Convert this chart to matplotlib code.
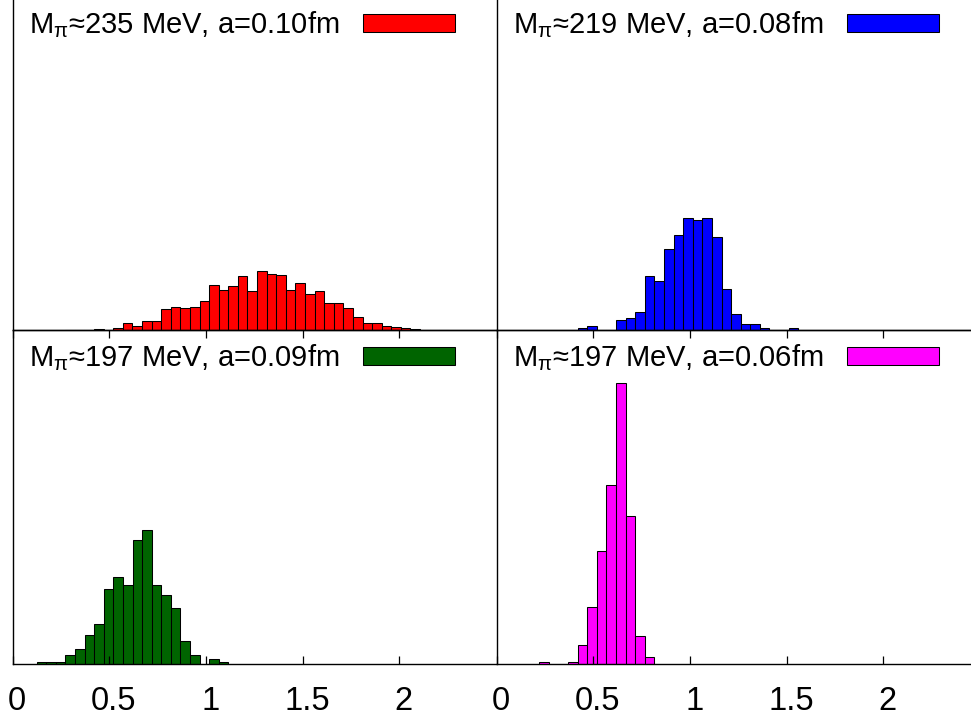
import numpy as np
import matplotlib
matplotlib.use("Agg")
import matplotlib.pyplot as plt
from matplotlib.transforms import ScaledTranslation

plt.rcParams.update({
    "font.family": ["Liberation Sans", "DejaVu Sans"],
    "mathtext.fontset": "custom",
    "mathtext.rm": "Liberation Sans",
    "mathtext.it": "Liberation Sans:italic",
    "mathtext.bf": "Liberation Sans:bold",
})

# ---- data (histogram heights, arbitrary units) ----
bin_width = 0.0496

labels = [
    r"M$_{\mathrm{π}}$≈235 MeV, a=0.10fm",
    r"M$_{\mathrm{π}}$≈219 MeV, a=0.08fm",
    r"M$_{\mathrm{π}}$≈197 MeV, a=0.09fm",
    r"M$_{\mathrm{π}}$≈197 MeV, a=0.06fm",
]
colors = ["#ff0000", "#0000ff", "#006400", "#ff00ff"]

start_a10 = 0.272
counts_a10 = [0.4, 0.4, 0.4, 1, 0, 2, 7, 4, 9, 9, 21, 23, 22, 23, 29, 45.3, 40, 44,
              54, 39, 59, 56, 55.3, 40, 47, 36.3, 39, 27.3, 27.3, 22, 13, 7, 7, 4,
              3, 2.3, 1, 0.4, 0.4, 0.4]

start_a08 = 0.419
counts_a08 = [2.3, 4, 0, 0, 10, 12, 18, 54, 49.7, 81, 95.3, 112, 110, 112, 93,
              41.3, 16, 6, 6, 2, 0, 0, 2]

start_a09 = 0.124
counts_a09 = [2, 2, 2, 8.3, 14.7, 29, 39.3, 74.3, 86.3, 78.3, 123.7, 133.7, 78.3,
              68.3, 55.7, 22.7, 8.3, 0, 4.3, 2]

start_a06 = 0.2207
counts_a06 = [2, 0, 0, 2, 18.7, 56.3, 112.3, 179, 280.7, 148, 27.3, 6.7]

xticks = [0, 0.5, 1, 1.5, 2]
xticklabels = ["0", "0.5", "1", "1.5", "2"]

panels = [
    (start_a10, counts_a10),
    (start_a08, counts_a08),
    (start_a09, counts_a09),
    (start_a06, counts_a06),
]

# ---- layout ----
W, H = 971, 719
fig = plt.figure(figsize=(W / 100, H / 100), dpi=100)
ax_w = 483.33 / W
ax_h = 333.4 / H
x_left = [12.67 / W, 496.67 / W]
y_bot = [(H - 330.3) / H, (H - 663.7) / H]

axes = []
for r in range(2):
    for c in range(2):
        ax = fig.add_axes([x_left[c], y_bot[r], ax_w, ax_h])
        ax.patch.set_visible(False)
        axes.append(ax)

for i, (ax, (start, counts)) in enumerate(zip(axes, panels)):
    counts = np.asarray(counts)
    lefts = start + bin_width * np.arange(len(counts))
    ax.bar(lefts, counts, width=bin_width, align="edge", color=colors[i],
           edgecolor="black", linewidth=0.75, label=labels[i])
    ax.set_xlim(0, 2.5)
    ax.set_ylim(0, 333.4)
    ax.set_yticks([])
    bottom_row = i >= 2
    ax.spines["right"].set_visible(False)
    ax.spines["top"].set_visible(bottom_row)
    for s in ["left", "bottom", "top"]:
        ax.spines[s].set_linewidth(1.0)
        ax.spines[s].set_color("black")
    if bottom_row:
        ax.set_xticks(xticks)
        ax.set_xticklabels(xticklabels, fontsize=23.5)
        ax.tick_params(axis="x", which="major", direction="in", length=6,
                       width=0.9, top=True, bottom=True, pad=16)
        for lab in ax.get_xticklabels():
            lab.set_transform(lab.get_transform() +
                              ScaledTranslation(4.4 / 100, 0, fig.dpi_scale_trans))
    else:
        ax.set_xticks([])
    ax.legend(loc="lower right", bbox_to_anchor=(1 - 41 / 483.33, 1 - 43 / 333.4),
              frameon=False, markerfirst=False, fontsize=21,
              handlelength=3.15, handleheight=0.57, handletextpad=0.8,
              borderpad=0, borderaxespad=0)

fig.savefig("out.png", dpi=100)
